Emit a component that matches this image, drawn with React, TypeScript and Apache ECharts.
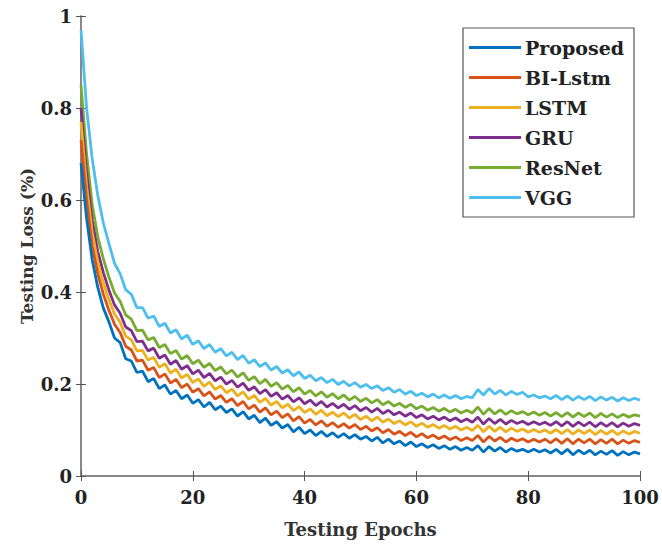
import React, { useEffect, useRef } from "react";
import * as echarts from "echarts";

const SERIES_NAMES = ["Proposed", "BI-Lstm", "LSTM", "GRU", "ResNet", "VGG"];
const COLORS = ["#0072BD", "#D95319", "#EDB120", "#7E2F8E", "#77AC30", "#4DBEEE"];
const Y_TICKS = [0, 0.2, 0.4, 0.6, 0.8, 1];

const EPOCHS = Array.from({ length: 101 }, (_, i) => i);

const PROPOSED = [
  0.680, 0.560, 0.470, 0.410, 0.365, 0.335, 0.300, 0.290, 0.255, 0.250,
  0.225, 0.228, 0.205, 0.212, 0.190, 0.198, 0.178, 0.186, 0.168, 0.176,
  0.158, 0.166, 0.150, 0.160, 0.144, 0.152, 0.138, 0.146, 0.130, 0.140,
  0.124, 0.132, 0.116, 0.126, 0.110, 0.118, 0.104, 0.112, 0.096, 0.106,
  0.092, 0.100, 0.088, 0.097, 0.086, 0.094, 0.084, 0.092, 0.082, 0.090,
  0.080, 0.086, 0.076, 0.084, 0.072, 0.080, 0.070, 0.076, 0.066, 0.074,
  0.064, 0.070, 0.062, 0.068, 0.060, 0.066, 0.058, 0.064, 0.056, 0.062,
  0.056, 0.066, 0.052, 0.064, 0.054, 0.062, 0.052, 0.060, 0.054, 0.058,
  0.052, 0.058, 0.052, 0.057, 0.050, 0.058, 0.048, 0.058, 0.046, 0.056,
  0.048, 0.056, 0.046, 0.054, 0.047, 0.055, 0.045, 0.053, 0.046, 0.052,
  0.048,
];

const BI_LSTM = [
  0.730, 0.600, 0.500, 0.440, 0.395, 0.360, 0.330, 0.312, 0.282, 0.274,
  0.250, 0.252, 0.230, 0.236, 0.214, 0.222, 0.202, 0.210, 0.192, 0.200,
  0.182, 0.190, 0.174, 0.183, 0.167, 0.175, 0.160, 0.168, 0.153, 0.162,
  0.146, 0.154, 0.139, 0.148, 0.133, 0.141, 0.127, 0.135, 0.120, 0.129,
  0.115, 0.123, 0.111, 0.120, 0.108, 0.116, 0.106, 0.114, 0.104, 0.112,
  0.101, 0.108, 0.098, 0.105, 0.094, 0.101, 0.091, 0.097, 0.088, 0.095,
  0.085, 0.092, 0.083, 0.089, 0.081, 0.087, 0.079, 0.085, 0.077, 0.083,
  0.077, 0.088, 0.074, 0.086, 0.076, 0.084, 0.074, 0.082, 0.076, 0.081,
  0.074, 0.080, 0.074, 0.080, 0.072, 0.081, 0.071, 0.081, 0.070, 0.080,
  0.072, 0.080, 0.070, 0.079, 0.071, 0.080, 0.070, 0.078, 0.071, 0.077,
  0.073,
];

const LSTM = [
  0.770, 0.630, 0.530, 0.465, 0.420, 0.383, 0.352, 0.334, 0.304, 0.296,
  0.272, 0.273, 0.252, 0.258, 0.236, 0.244, 0.224, 0.232, 0.213, 0.221,
  0.203, 0.211, 0.195, 0.204, 0.188, 0.196, 0.181, 0.189, 0.174, 0.183,
  0.167, 0.175, 0.160, 0.169, 0.154, 0.162, 0.148, 0.156, 0.142, 0.151,
  0.138, 0.146, 0.134, 0.143, 0.131, 0.139, 0.129, 0.137, 0.126, 0.134,
  0.123, 0.130, 0.120, 0.128, 0.117, 0.124, 0.114, 0.120, 0.111, 0.118,
  0.108, 0.115, 0.106, 0.112, 0.104, 0.110, 0.102, 0.108, 0.100, 0.106,
  0.099, 0.110, 0.096, 0.108, 0.097, 0.106, 0.096, 0.104, 0.097, 0.102,
  0.095, 0.101, 0.095, 0.100, 0.093, 0.101, 0.092, 0.101, 0.091, 0.100,
  0.092, 0.100, 0.090, 0.099, 0.091, 0.099, 0.090, 0.098, 0.091, 0.097,
  0.093,
];

const GRU = [
  0.800, 0.660, 0.555, 0.488, 0.442, 0.404, 0.372, 0.354, 0.324, 0.316,
  0.292, 0.293, 0.272, 0.278, 0.256, 0.263, 0.243, 0.251, 0.232, 0.240,
  0.222, 0.230, 0.214, 0.223, 0.207, 0.215, 0.200, 0.208, 0.193, 0.202,
  0.186, 0.194, 0.179, 0.188, 0.173, 0.181, 0.167, 0.175, 0.161, 0.170,
  0.157, 0.165, 0.153, 0.162, 0.150, 0.158, 0.148, 0.156, 0.145, 0.153,
  0.142, 0.149, 0.139, 0.147, 0.136, 0.143, 0.133, 0.139, 0.130, 0.137,
  0.127, 0.133, 0.124, 0.130, 0.122, 0.128, 0.120, 0.126, 0.118, 0.124,
  0.117, 0.128, 0.113, 0.125, 0.114, 0.123, 0.113, 0.121, 0.114, 0.119,
  0.112, 0.118, 0.112, 0.117, 0.110, 0.118, 0.109, 0.118, 0.108, 0.117,
  0.109, 0.117, 0.107, 0.116, 0.108, 0.116, 0.107, 0.115, 0.108, 0.114,
  0.110,
];

const RESNET = [
  0.850, 0.700, 0.590, 0.520, 0.472, 0.432, 0.398, 0.380, 0.350, 0.341,
  0.316, 0.317, 0.296, 0.301, 0.279, 0.286, 0.266, 0.273, 0.254, 0.262,
  0.244, 0.252, 0.236, 0.245, 0.229, 0.237, 0.222, 0.230, 0.215, 0.224,
  0.208, 0.216, 0.201, 0.210, 0.195, 0.203, 0.189, 0.197, 0.183, 0.192,
  0.178, 0.186, 0.174, 0.183, 0.171, 0.179, 0.168, 0.176, 0.165, 0.173,
  0.162, 0.169, 0.159, 0.166, 0.155, 0.162, 0.152, 0.158, 0.149, 0.156,
  0.146, 0.152, 0.143, 0.149, 0.141, 0.147, 0.139, 0.145, 0.137, 0.143,
  0.137, 0.150, 0.134, 0.147, 0.135, 0.144, 0.134, 0.142, 0.135, 0.140,
  0.133, 0.139, 0.132, 0.138, 0.130, 0.138, 0.129, 0.138, 0.128, 0.137,
  0.129, 0.137, 0.127, 0.136, 0.128, 0.135, 0.127, 0.134, 0.128, 0.133,
  0.130,
];

const VGG = [
  0.970, 0.800, 0.690, 0.610, 0.550, 0.505, 0.462, 0.440, 0.405, 0.395,
  0.366, 0.366, 0.343, 0.348, 0.325, 0.332, 0.311, 0.318, 0.298, 0.306,
  0.286, 0.294, 0.277, 0.286, 0.269, 0.277, 0.261, 0.269, 0.253, 0.262,
  0.245, 0.253, 0.238, 0.246, 0.230, 0.238, 0.224, 0.231, 0.218, 0.226,
  0.212, 0.219, 0.207, 0.214, 0.203, 0.210, 0.199, 0.206, 0.196, 0.203,
  0.193, 0.199, 0.190, 0.196, 0.186, 0.192, 0.182, 0.188, 0.178, 0.184,
  0.175, 0.180, 0.172, 0.178, 0.170, 0.176, 0.169, 0.175, 0.168, 0.173,
  0.170, 0.188, 0.176, 0.190, 0.178, 0.186, 0.176, 0.184, 0.177, 0.182,
  0.172, 0.176, 0.170, 0.174, 0.168, 0.175, 0.166, 0.174, 0.165, 0.173,
  0.166, 0.173, 0.164, 0.172, 0.165, 0.171, 0.163, 0.170, 0.164, 0.169,
  0.165,
];

const VALUES = [PROPOSED, BI_LSTM, LSTM, GRU, RESNET, VGG];

const FONT = "'DejaVu Serif', 'Liberation Serif', serif";

export default function App() {
  const ref = useRef<HTMLDivElement>(null);

  useEffect(() => {
    if (!ref.current) return;
    const chart = echarts.init(ref.current, null, { renderer: "svg" });
    const axisLine = { show: true, lineStyle: { color: "#808080", width: 1.5 } };
    const tick = { show: true, inside: true, length: 5, lineStyle: { color: "#555" } };
    chart.setOption({
      animation: false,
      backgroundColor: "#fff",
      grid: { left: 81, top: 16, width: 559, height: 460, show: false },
      legend: {
        orient: "vertical",
        left: 463,
        top: 28,
        data: SERIES_NAMES,
        icon: "rect",
        itemWidth: 52,
        itemHeight: 3,
        itemGap: 11,
        padding: [10, 10, 10, 6],
        borderColor: "#555",
        borderWidth: 1.2,
        backgroundColor: "#fff",
        textStyle: { fontFamily: FONT, fontWeight: "bold", fontSize: 19, color: "#222", padding: [0, 0, 0, -1] },
      },
      xAxis: [
        {
          type: "value",
          min: 0,
          max: 100,
          interval: 20,
          axisLine,
          axisTick: tick,
          splitLine: { show: false },
          axisLabel: { fontFamily: FONT, fontWeight: "bold", fontSize: 18, color: "#222", margin: 12 },
          name: "Testing Epochs",
          nameLocation: "middle",
          nameGap: 44,
          nameTextStyle: { fontFamily: FONT, fontWeight: "bold", fontSize: 18, color: "#333" },
        },
        {
          type: "value",
          position: "top",
          min: 0,
          max: 100,
          interval: 20,
          axisLine,
          axisTick: tick,
          splitLine: { show: false },
          axisLabel: { show: false },
        },
      ],
      yAxis: [
        {
          type: "value",
          min: 0,
          max: 1,
          interval: 0.2,
          axisLine,
          axisTick: tick,
          splitLine: { show: false },
          axisLabel: {
            fontFamily: FONT,
            fontWeight: "bold",
            fontSize: 18,
            color: "#222",
            margin: 9,
            formatter: (v: number) => {
              const t = Y_TICKS.find((y) => Math.abs(y - v) < 1e-9);
              return t === undefined ? "" : String(t);
            },
          },
          name: "Testing Loss (%)",
          nameLocation: "middle",
          nameGap: 46,
          nameMoveOverlap: false,
          nameTextStyle: { fontFamily: FONT, fontWeight: "bold", fontSize: 17, color: "#333" },
        },
        {
          type: "value",
          position: "right",
          min: 0,
          max: 1,
          interval: 0.2,
          axisLine,
          axisTick: tick,
          splitLine: { show: false },
          axisLabel: { show: false },
        },
      ],
      series: SERIES_NAMES.map((name, i) => ({
        name,
        type: "line",
        symbol: "none",
        color: COLORS[i],
        lineStyle: { width: 2.8, color: COLORS[i] },
        data: EPOCHS.map((e, j) => [e, VALUES[i][j]]),
        z: 2 + (SERIES_NAMES.length - i),
      })),
    });
    return () => chart.dispose();
  }, []);

  return (
    <div
      ref={ref}
      style={{ position: "fixed", left: 0, top: 0, width: 662, height: 546, background: "#fff" }}
    />
  );
}
